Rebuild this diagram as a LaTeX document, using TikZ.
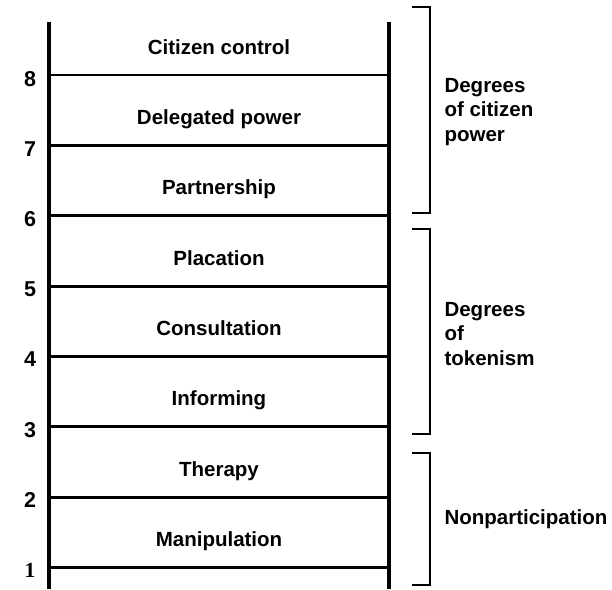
\documentclass[tikz,border=0pt]{standalone}
\usepackage{fontspec}
\setmainfont{Liberation Sans}
\newfontfamily\onefont{Liberation Serif}
\tikzset{
	rail/.style={line width=3.4pt},
	rung/.style={line width=2.8pt},
	bracket/.style={line width=2.3pt},
	rungtext/.style={anchor=base, font=\fontsize{20.5}{24}\selectfont\bfseries},
	numtext/.style={font=\fontsize{21.5}{24}\selectfont\bfseries},
	grouptext/.style={anchor=west, align=left, font=\fontsize{20.5}{24.5}\selectfont\bfseries}
}

\begin{document}
\begin{tikzpicture}[x=1pt, y=-1pt]
			%%%%% START %%%%%
			\useasboundingbox (0, 0) rectangle (612, 589);
			
			% rails
			\draw[rail] (49, 22) -- (49, 589);
			\draw[rail] (389, 22) -- (389, 589);
			
			% rungs
			\draw[rung] (49, 75) -- (389, 75);
			\draw[rung] (49, 145.4) -- (389, 145.4);
			\draw[rung] (49, 215.7) -- (389, 215.7);
			\draw[rung] (49, 286.1) -- (389, 286.1);
			\draw[rung] (49, 356.4) -- (389, 356.4);
			\draw[rung] (49, 426.8) -- (389, 426.8);
			\draw[rung] (49, 497.1) -- (389, 497.1);
			\draw[rung] (49, 567.5) -- (389, 567.5);
			
			% rung names
			\node[rungtext] (control) at (219, 54) {Citizen control};
			\node[rungtext] (delegated) at (219, 124.4) {Delegated power};
			\node[rungtext] (partnership) at (219, 194.7) {Partnership};
			\node[rungtext] (placation) at (219, 265.1) {Placation};
			\node[rungtext] (consultation) at (219, 335.4) {Consultation};
			\node[rungtext] (informing) at (219, 405.8) {Informing};
			\node[rungtext] (therapy) at (219, 476.1) {Therapy};
			\node[rungtext] (manipulation) at (219, 546.5) {Manipulation};
			
			% numbers
			\node[numtext] (n8) at (30, 79) {8};
			\node[numtext] (n7) at (30, 149.4) {7};
			\node[numtext] (n6) at (30, 219.2) {6};
			\node[numtext] (n5) at (30, 289.1) {5};
			\node[numtext] (n4) at (30, 359.4) {4};
			\node[numtext] (n3) at (30, 429.8) {3};
			\node[numtext] (n2) at (30, 500.1) {2};
			\node[numtext] (n1) at (30, 570.5) {\onefont\bfseries 1};
			
			% brackets
			\draw[bracket] (412, 7) -- (430, 7) -- (430, 213) -- (412, 213);
			\draw[bracket] (412, 229) -- (430, 229) -- (430, 434) -- (412, 434);
			\draw[bracket] (412, 453) -- (430, 453) -- (430, 585) -- (412, 585);
			
			\node[grouptext] (power) at (441, 112) {Degrees\\of citizen\\power};
			\node[grouptext] (tokenism) at (441, 334) {Degrees\\of\\tokenism};
			\node[grouptext] (nonpart) at (441, 519) {Nonparticipation};
			
			%%%%% END %%%%%
\end{tikzpicture}
\end{document}
